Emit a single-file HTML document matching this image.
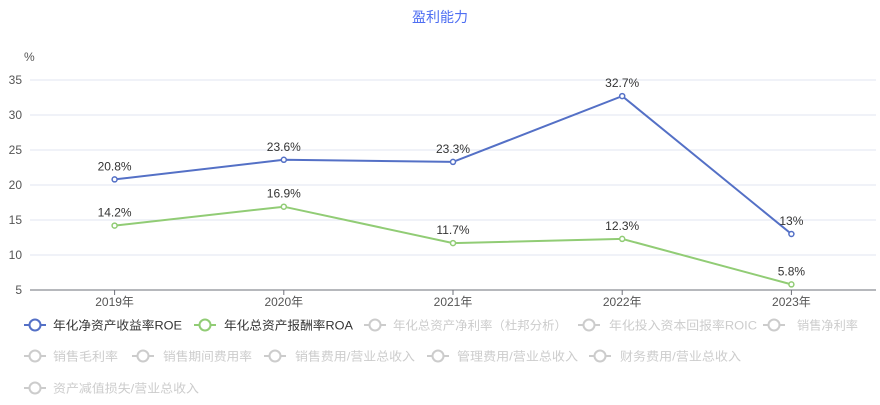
<!DOCTYPE html>
<html><head><meta charset="utf-8"><style>
body{margin:0;background:#fff;font-family:"Liberation Sans","Noto Sans CJK SC",sans-serif;}
svg text{font-family:"Liberation Sans","Noto Sans CJK SC",sans-serif;}
</style></head><body>
<svg id="chart" width="880" height="400" xmlns="http://www.w3.org/2000/svg">
<text x="440" y="22" text-anchor="middle" font-size="14" fill="#4e6ef2">盈利能力</text>
<text x="24" y="61" font-size="12" fill="#555">%</text>
<g id="grid"></g><g id="series"></g><g id="legend"></g>
</svg>
<script>
const categories=["2019年","2020年","2021年","2022年","2023年"];
const roe=[20.8,23.6,23.3,32.7,13];
const roa=[14.2,16.9,11.7,12.3,5.8];
const roeLabels=["20.8%","23.6%","23.3%","32.7%","13%"];
const roaLabels=["14.2%","16.9%","11.7%","12.3%","5.8%"];
const yTicks=[5,10,15,20,25,30,35];
const legendActive=["年化净资产收益率ROE","年化总资产报酬率ROA"];
const legendInactive=["年化总资产净利率（杜邦分析）","年化投入资本回报率ROIC","销售净利率","销售毛利率","销售期间费用率","销售费用/营业总收入","管理费用/营业总收入","财务费用/营业总收入","资产减值损失/营业总收入"];
const NS="http://www.w3.org/2000/svg";
const L=30,R=876,T=80,B=290,ymin=5,ymax=35;
const x=i=>L+(R-L)/categories.length*(i+0.5);
const y=v=>B-(v-ymin)/(ymax-ymin)*(B-T);
function mk(tag,attrs,parent,txt){const e=document.createElementNS(NS,tag);for(const k in attrs)e.setAttribute(k,attrs[k]);if(txt!==undefined)e.textContent=txt;parent.appendChild(e);return e;}
const g=document.getElementById('grid');
yTicks.forEach(t=>{
 if(t>ymin){const l=mk('line',{x1:L,x2:R,y1:y(t),y2:y(t),stroke:'#e0e6f1'},g);
 
 }
 const tx=mk('text',{x:22,y:y(t)+4,'text-anchor':'end','font-size':12,fill:'#555'},g,String(t));
 
 
});
const ax=mk('line',{x1:L,x2:R,y1:B,y2:B,stroke:'#6e7079'},g);


categories.forEach((c,i)=>{
 const tk=mk('line',{x1:x(i),x2:x(i),y1:B,y2:B+5,stroke:'#6e7079'},g);
 
 
 const t=mk('text',{x:x(i),y:B+16,'text-anchor':'middle','font-size':12,fill:'#555'},g,c);
 
 
});
const s=document.getElementById('series');
function drawSeries(vals,labels,color,name){
 const p=mk('polyline',{points:vals.map((v,i)=>x(i)+','+y(v)).join(' '),fill:'none',stroke:color,'stroke-width':2},s);
 
 
 vals.forEach((v,i)=>{
  const c=mk('circle',{cx:x(i),cy:y(v),r:2.5,fill:'#fff',stroke:color,'stroke-width':1.5},s);
  
  
  const t=mk('text',{x:x(i),y:y(v)-9,'text-anchor':'middle','font-size':12,fill:'#333'},s,labels[i]);
  
  
 });
}
drawSeries(roe,roeLabels,'#5470c6','roe');
drawSeries(roa,roaLabels,'#91cc75','roa');
const lg=document.getElementById('legend');
// [icon center x, y, text x, text width]
const pos=[[35,325,53,129],[205,325,224,129],[375,325,393,174],[589,325,609,148],[774,325,797,61],[35,356,53,65],[143,356,163,89],[275,356,295,120],[438,356,457,121],[600,356,620,121],[35,388,53,146]];
const items=legendActive.map((t,i)=>[t,['#5470c6','#91cc75'][i],'#333']).concat(legendInactive.map(t=>[t,'#ccc','#ccc']));
items.forEach((it,i)=>{
 const [cx,py,tx,tw]=pos[i];
 const gg=mk('g',{},lg);
 
 
 mk('line',{x1:cx-11,x2:cx+11,y1:py,y2:py,stroke:it[1],'stroke-width':2},gg);
 mk('circle',{cx:cx,cy:py,r:5.5,fill:'#fff',stroke:it[1],'stroke-width':2},gg);
 mk('text',{x:tx,y:py+4.5,'font-size':12,fill:it[2],textLength:tw,lengthAdjust:'spacingAndGlyphs'},gg,it[0]);
});
</script>
</body></html>
